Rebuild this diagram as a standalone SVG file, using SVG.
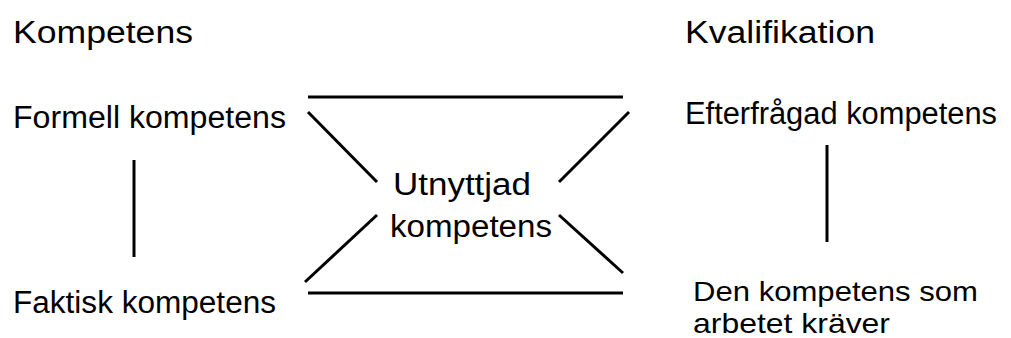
<svg xmlns="http://www.w3.org/2000/svg" width="1011" height="338" viewBox="0 0 1011 338">
<style>
text{font-family:"Liberation Sans",Arial,sans-serif;font-size:31px;fill:#000}
.s{font-size:28px}
.c line{stroke:#000;stroke-width:3;stroke-linecap:butt}
</style>
<rect width="1011" height="338" fill="#fff"/>
<g id="kompetens"><text x="13" y="43" textLength="180" lengthAdjust="spacingAndGlyphs">Kompetens</text></g>
<g id="kvalifikation"><text x="685" y="43" textLength="190" lengthAdjust="spacingAndGlyphs">Kvalifikation</text></g>
<g id="formell"><text x="13" y="128" textLength="273" lengthAdjust="spacingAndGlyphs">Formell kompetens</text></g>
<g id="faktisk"><text x="13" y="313" textLength="263" lengthAdjust="spacingAndGlyphs">Faktisk kompetens</text></g>
<g id="efterfragad"><text x="685" y="124" textLength="312" lengthAdjust="spacingAndGlyphs">Efterfrågad kompetens</text></g>
<g id="krav"><text class="s" x="693" y="301" textLength="285" lengthAdjust="spacingAndGlyphs">Den kompetens som</text><text class="s" x="693" y="333" textLength="197" lengthAdjust="spacingAndGlyphs">arbetet kräver</text></g>
<g id="utnyttjad"><text x="393" y="195" textLength="138" lengthAdjust="spacingAndGlyphs">Utnyttjad</text><text x="390" y="237" textLength="162" lengthAdjust="spacingAndGlyphs">kompetens</text></g>
<g class="c" id="connectors">
<line x1="134" y1="160" x2="134" y2="257"/>
<line x1="827" y1="145" x2="827" y2="242"/>
<line x1="308" y1="97" x2="623" y2="97"/>
<line x1="308" y1="293" x2="623" y2="293"/>
<line x1="308" y1="112" x2="377" y2="182"/>
<line x1="629" y1="112" x2="559" y2="182"/>
<line x1="377" y1="215" x2="305" y2="282"/>
<line x1="559" y1="215" x2="623" y2="273"/>
</g>
</svg>
